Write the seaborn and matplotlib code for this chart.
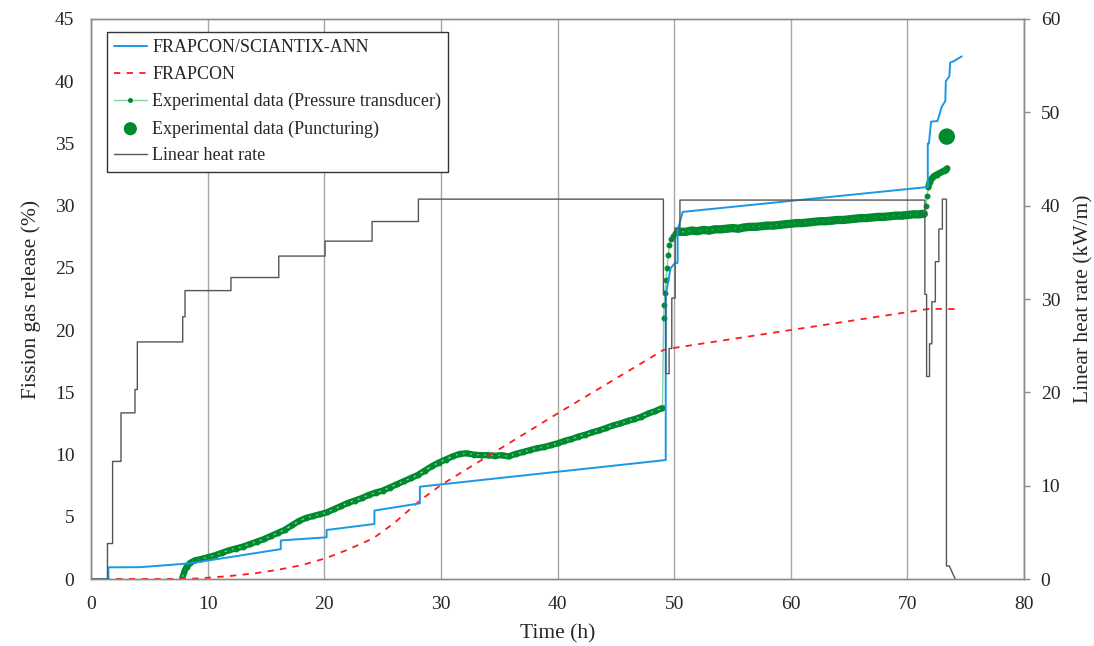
import numpy as np
import pandas as pd
import matplotlib
matplotlib.use("Agg")
import matplotlib.pyplot as plt
import seaborn as sns

# FRAPCON/SCIANTIX-ANN (time h, FGR %)
ann_t = [0, 1.49, 1.49, 4.2, 8.5, 16.27, 16.27, 20.2, 20.2, 24.3, 24.3, 28.2, 28.2,
         49.28, 49.28, 49.7, 50.08, 50.3, 50.3, 50.74, 71.75, 71.75, 71.85, 72.03,
         72.58, 72.95, 73.25, 73.3, 73.6, 73.67, 73.96, 74.67]
ann_v = [0, 0, 0.94, 0.95, 1.26, 2.4, 3.1, 3.35, 3.94, 4.42, 5.5, 6.08, 7.42,
         9.56, 22.8, 24.97, 25.4, 25.4, 28.05, 29.5, 31.5, 35.0, 35.0, 36.75,
         36.8, 37.95, 38.4, 40.0, 40.4, 41.5, 41.6, 42.0]

# FRAPCON
frap_t = [0, 8.3, 10.0, 12.0, 14.0, 15.9, 18.0, 20.1, 22.0, 24.2, 26.0, 28.2, 30.0,
          40.0, 49.08, 50.2, 71.8, 74.1]
frap_v = [0, 0, 0.1, 0.25, 0.45, 0.72, 1.1, 1.66, 2.35, 3.27, 4.5, 6.3, 7.55,
          13.3, 18.4, 18.6, 21.7, 21.7]

# Experimental data (Pressure transducer)
exp_t = [7.8, 8.0, 8.2, 8.5, 8.9, 9.4, 10.0, 10.6, 11.2, 11.8, 12.4, 13.0, 13.6, 14.2,
         14.8, 15.4, 16.0, 16.6, 17.2, 17.8, 18.4, 19.0, 19.6, 20.2, 20.8, 21.4, 22.0,
         22.6, 23.2, 23.8, 24.4, 25.0, 25.6, 26.2, 26.8, 27.4, 28.0, 28.6, 29.2, 29.8,
         30.4, 31.0, 31.6, 32.2, 32.8, 33.4, 34.0, 34.6, 35.2, 35.8, 36.4, 37.0, 37.6,
         38.2, 38.8, 39.4, 40.0, 40.6, 41.2, 41.8, 42.4, 43.0, 43.6, 44.2, 44.8, 45.4,
         46.0, 46.6, 47.2, 47.8, 48.4, 49.0,
         49.1, 49.15, 49.2, 49.3, 49.4, 49.5, 49.6, 49.75, 49.9, 50.1, 50.4,
         51.0, 51.5, 52.0, 52.5, 53.0, 53.5, 54.0, 54.5, 55.0, 55.5, 56.0, 56.5, 57.0,
         57.5, 58.0, 58.5, 59.0, 59.5, 60.0, 60.5, 61.0, 61.5, 62.0, 62.5, 63.0, 63.5,
         64.0, 64.5, 65.0, 65.5, 66.0, 66.5, 67.0, 67.5, 68.0, 68.5, 69.0, 69.5, 70.0,
         70.5, 71.0, 71.4,
         71.6, 71.7, 71.8, 71.9, 72.1, 72.3, 72.5, 72.7, 72.9, 73.1, 73.3, 73.4]
exp_v = [0.0, 0.6, 1.0, 1.3, 1.5, 1.6, 1.75, 1.9, 2.1, 2.3, 2.45, 2.6, 2.8, 3.0,
         3.2, 3.45, 3.7, 3.95, 4.3, 4.65, 4.9, 5.05, 5.2, 5.35, 5.6, 5.85, 6.1,
         6.3, 6.5, 6.75, 6.95, 7.1, 7.35, 7.6, 7.85, 8.1, 8.35, 8.7, 9.05, 9.35,
         9.6, 9.85, 10.05, 10.1, 10.0, 9.95, 9.95, 9.9, 9.95, 9.85, 10.05, 10.2, 10.35,
         10.5, 10.6, 10.75, 10.9, 11.1, 11.25, 11.45, 11.6, 11.8, 11.95, 12.15, 12.35, 12.5,
         12.7, 12.85, 13.05, 13.3, 13.5, 13.75,
         21.0, 22.0, 23.0, 24.0, 25.0, 26.0, 26.8, 27.3, 27.6, 27.8, 27.9,
         27.9, 28.0, 27.95, 28.05, 28.0, 28.1, 28.1, 28.15, 28.2, 28.15, 28.25, 28.3, 28.3,
         28.35, 28.4, 28.4, 28.45, 28.5, 28.55, 28.6, 28.6, 28.65, 28.7, 28.75, 28.75, 28.8,
         28.85, 28.85, 28.9, 28.95, 29.0, 29.0, 29.05, 29.1, 29.1, 29.15, 29.2, 29.2, 29.25,
         29.3, 29.3, 29.35,
         30.0, 30.8, 31.5, 31.9, 32.2, 32.4, 32.5, 32.6, 32.7, 32.8, 32.9, 33.0]

# Experimental data (Puncturing)
punct_t = [73.38]
punct_v = [35.55]

# Linear heat rate (kW/m)
lhr_t = [0, 1.41, 1.41, 1.85, 1.85, 2.57, 2.57, 3.77, 3.77, 3.97, 3.97, 7.86, 7.86,
         8.06, 8.06, 12.0, 12.0, 16.1, 16.1, 20.07, 20.07, 24.1, 24.1, 28.07, 28.07,
         49.08, 49.08, 49.28, 49.28, 49.57, 49.57, 49.8, 49.8, 50.09, 50.09, 50.5, 50.5,
         71.5, 71.5, 71.65, 71.65, 71.9, 71.9, 72.1, 72.1, 72.4, 72.4, 72.7, 72.7,
         73.0, 73.0, 73.35, 73.35, 73.6, 74.1]
lhr_v = [0, 0, 3.8, 3.8, 12.6, 12.6, 17.8, 17.8, 20.3, 20.3, 25.4, 25.4, 28.1,
         28.1, 30.9, 30.9, 32.3, 32.3, 34.6, 34.6, 36.2, 36.2, 38.3, 38.3, 40.7,
         40.7, 30.8, 30.8, 22.0, 22.0, 24.7, 24.7, 30.1, 30.1, 37.6, 37.6, 40.6,
         40.6, 30.5, 30.5, 21.7, 21.7, 25.2, 25.2, 29.7, 29.7, 34.0, 34.0, 37.5,
         37.5, 40.7, 40.7, 1.4, 1.4, 0]

sns.set_style("white")
plt.rcParams['font.family'] = ['Liberation Serif', 'DejaVu Serif']

fig = plt.figure(figsize=(10.94, 6.46), dpi=100)
ax = fig.add_axes([0.0832, 0.1037, 0.8528, 0.8669])
ax2 = ax.twinx()

ann = pd.DataFrame({'t': ann_t, 'v': ann_v})
frap = pd.DataFrame({'t': frap_t, 'v': frap_v})
exp = pd.DataFrame({'t': exp_t, 'v': exp_v})
punct = pd.DataFrame({'t': punct_t, 'v': punct_v})
lhr = pd.DataFrame({'t': lhr_t, 'v': lhr_v})

dark_green = '#008a2e'

# dense band of the transducer record (the data is very dense in the original)
for seg, lw in ((exp.iloc[0:72], 4.5), (exp.iloc[82:125], 6), (exp.iloc[127:137], 4.5)):
    sns.lineplot(data=seg, x='t', y='v', ax=ax, sort=False, estimator=None,
                 color=dark_green, linewidth=lw, legend=False, zorder=2)
sns.lineplot(data=exp, x='t', y='v', ax=ax, sort=False, estimator=None,
             color='#86d3a3', linewidth=1, marker='o', markersize=3.5,
             markerfacecolor=dark_green, markeredgecolor=dark_green,
             label='Experimental data (Pressure transducer)', zorder=2)
sns.lineplot(data=frap, x='t', y='v', ax=ax, sort=False, estimator=None,
             color='#ff1a1a', linewidth=1.3, linestyle=(0, (3.5, 3.5)),
             label='FRAPCON', zorder=3)
sns.lineplot(data=ann, x='t', y='v', ax=ax, sort=False, estimator=None,
             color='#1a98e6', linewidth=1.4, label='FRAPCON/SCIANTIX-ANN', zorder=4)
sns.scatterplot(data=punct, x='t', y='v', ax=ax, color=dark_green, s=140,
                edgecolor='none', label='Experimental data (Puncturing)', zorder=5)
sns.lineplot(data=lhr, x='t', y='v', ax=ax2, sort=False, estimator=None,
             color='#555555', linewidth=1, label='Linear heat rate')

ax.set_xlim(0, 80)
ax.set_ylim(0, 45)
ax2.set_ylim(0, 60)
ax.set_xticks(np.arange(0, 81, 10))
ax.set_yticks(np.arange(0, 46, 5))
ax2.set_yticks(np.arange(0, 61, 10))

ax.grid(axis='x', color='#a6a6a6', linewidth=1)
ax.grid(axis='y', visible=False)
ax2.grid(False)

for a in (ax, ax2):
    for s in a.spines.values():
        s.set_color('#8c8c8c')
        s.set_linewidth(1)

ax.tick_params(axis='both', length=0, labelsize=14, pad=12)
ax2.tick_params(axis='y', length=4, width=1, color='#8c8c8c', direction='out',
                labelsize=14, pad=8, right=True)

ax.set_xlabel('Time (h)', fontsize=15.5, labelpad=8)
ax.set_ylabel('Fission gas release (%)', fontsize=15.5, labelpad=10)
ax2.set_ylabel('Linear heat rate (kW/m)', fontsize=15.5, labelpad=10)

# legend: gather from both axes in reference order
h1, l1 = ax.get_legend_handles_labels()
h2, l2 = ax2.get_legend_handles_labels()
hd = dict(zip(l1 + l2, h1 + h2))
order = ['FRAPCON/SCIANTIX-ANN', 'FRAPCON', 'Experimental data (Pressure transducer)',
         'Experimental data (Puncturing)', 'Linear heat rate']
ax.get_legend().remove()
ax2.get_legend().remove()
leg = ax2.legend([hd[k] for k in order], order, loc='upper left',
                 bbox_to_anchor=(0.017, 0.977), fontsize=13, frameon=True,
                 fancybox=False, edgecolor='#333333', framealpha=1,
                 handlelength=1.8, labelspacing=0.55, borderpad=0.4,
                 handletextpad=0.3, borderaxespad=0, markerscale=0.8)
leg.get_frame().set_linewidth(1)

fig.savefig('out.png', dpi=100)
